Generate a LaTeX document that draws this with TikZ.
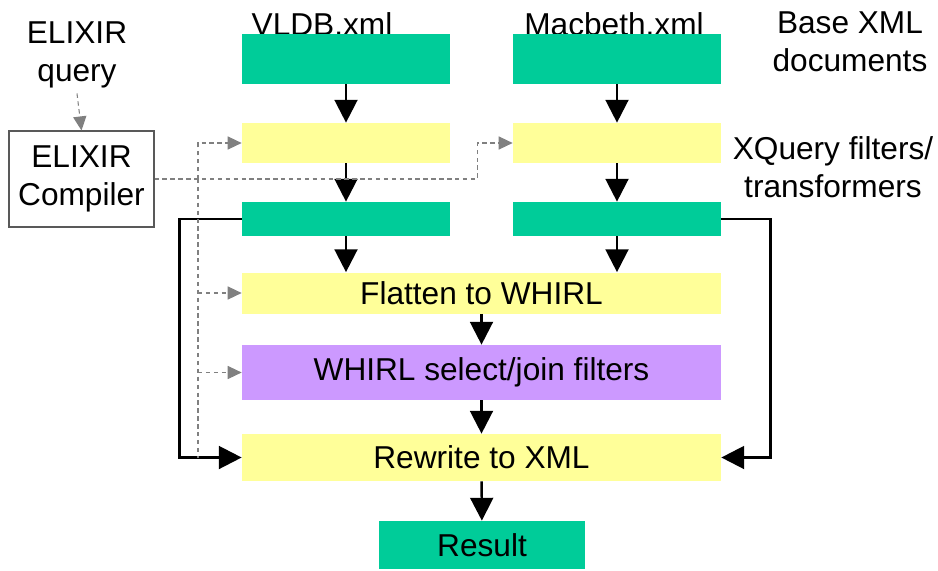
\documentclass[tikz,border=0pt]{standalone}
\usepackage{fontspec}
\setmainfont{Liberation Sans}
\usepackage{xcolor}
\usepackage{tikz}
\usetikzlibrary{positioning,calc,arrows.meta}
\definecolor{DocGreen}{RGB}{0,204,153}
\definecolor{FilterYellow}{RGB}{255,255,153}
\definecolor{WhirlPurple}{RGB}{204,153,255}
\definecolor{CtrlGray}{RGB}{128,128,128}

\begin{document}
\begin{tikzpicture}[
        font=\fontsize{18}{21.6}\selectfont,
        % Style for the green document boxes
        docbox/.style={
            fill=DocGreen,
            minimum width=4.16cm,
            inner sep=0pt
        },
        % Style for the yellow processing boxes
        filterbox/.style={
            fill=FilterYellow,
            inner sep=0pt
        },
        % Style for the black data-flow arrows
        flow/.style={
            draw=black,
            line width=1.4pt,
            -{Triangle[length=13pt,width=13pt]}
        },
        % Style for the grey dashed control arrows
        ctrl/.style={
            draw=CtrlGray,
            line width=0.6pt,
            dash pattern=on 2.5pt off 2pt
        },
        ctrlarrow/.style={
            ctrl,
            -{Triangle[length=8pt,width=7.5pt]}
        },
        % Style for the plain side texts
        note/.style={
            align=center,
            inner sep=0pt
        }
    ]

        \useasboundingbox (0,0) rectangle (18.76,-11.4);

        % --- 1. TEXTS (drawn first, the boxes overlap them) ---
        \node[anchor=base] (vldbname) at (6.44, -0.70) {VLDB.xml};
        \node[anchor=base] (macname) at (12.28, -0.70) {Macbeth.xml};
        \node[note] (basedocs) at (17.0, -0.84) {Base XML\\documents};
        \node[note] (xqnote) at (16.66, -3.34) {XQuery filters/\\transformers};
        \node[note] (query) at (1.54, -1.1) {ELIXIR\\query};

        % --- 2. BOXES ---
        \node[docbox, minimum height=1cm] (vldb) at (6.92, -1.18) {};
        \node[docbox, minimum height=1cm] (mac) at (12.34, -1.18) {};

        \node[filterbox, minimum width=4.16cm, minimum height=0.8cm] (xq1) at (6.92, -2.86) {};
        \node[filterbox, minimum width=4.16cm, minimum height=0.8cm] (xq2) at (12.34, -2.86) {};

        \node[docbox, minimum height=0.68cm] (res1) at (6.92, -4.38) {};
        \node[docbox, minimum height=0.68cm] (res2) at (12.34, -4.38) {};

        \node[filterbox, minimum width=9.58cm, minimum height=0.82cm] (flatten) at (9.63, -5.86) {Flatten to WHIRL};
        \node[fill=WhirlPurple, inner sep=0pt, minimum width=9.58cm, minimum height=1.1cm] (whirl) at (9.63, -7.45) {WHIRL select/join filters};
        \node[filterbox, minimum width=9.58cm, minimum height=0.94cm] (rewrite) at (9.63, -9.15) {Rewrite to XML};

        \node[docbox, minimum width=4.12cm, minimum height=0.96cm] (result) at (9.64, -10.9) {Result};

        \node[draw=black!65, line width=0.6pt, align=center, minimum width=2.9cm, minimum height=1.92cm, inner sep=0pt] (comp) at (1.63, -3.58) {ELIXIR\\Compiler};

        % --- 3. DATA FLOW ---
        \draw[flow] (vldb) -- (xq1);
        \draw[flow] (xq1) -- (res1);
        \draw[flow] (res1.south) -- (res1.south |- flatten.north);
        \draw[flow] (mac) -- (xq2);
        \draw[flow] (xq2) -- (res2);
        \draw[flow] (res2.south) -- (res2.south |- flatten.north);
        \draw[flow] (flatten) -- (whirl);
        \draw[flow] (whirl) -- (rewrite);
        \draw[flow] (rewrite) -- (result);

        \draw[flow] (res1.west) -- ++(-1.24, 0) |- (rewrite.west);
        \draw[flow] (res2.east) -- ++(0.98, 0) |- (rewrite.east);

        % --- 4. CONTROL FROM THE COMPILER ---
        \draw[ctrlarrow] (query.south) ++(0, -0.1) -- (comp.north);
        \draw[ctrlarrow] (comp.east) -- ++(6.46, 0) |- (xq2.west);

        \coordinate (tap) at (3.96, -3.58);
        \draw[ctrlarrow] (tap) |- (xq1.west);
        \draw[ctrl] (tap) -- (tap |- rewrite.west);
        \draw[ctrlarrow] (tap |- flatten.west) -- (flatten.west);
        \draw[ctrlarrow] (tap |- whirl.west) -- (whirl.west);

    \end{tikzpicture}
\end{document}
